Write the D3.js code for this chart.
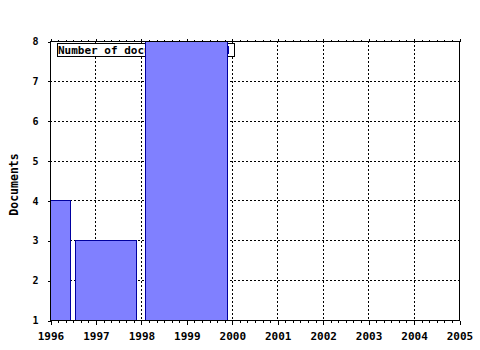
<!DOCTYPE html>
<html>
<head>
<meta charset="utf-8">
<script src="https://cdn.jsdelivr.net/npm/d3@7"></script>
<style>
  body { margin: 0; background: #fff; }
  svg { display: block; }
</style>
</head>
<body>
<div id="chart"></div>
<script>
// bins (in years) and document counts
const binStart = [1996, 1996.55, 1998.1];
const binEnd = [1996.45, 1997.9, 1999.9];
const counts = [4, 3, 8];
const yearTicks = [1996, 1997, 1998, 1999, 2000, 2001, 2002, 2003, 2004, 2005];
const countTicks = [1, 2, 3, 4, 5, 6, 7, 8];
const legendLabel = "Number of documents";

const width = 480, height = 350;
const plotLeft = 50, plotRight = 459, plotTop = 41, plotBottom = 320;

const svg = d3.select("#chart").append("svg")
  .attr("width", width)
  .attr("height", height)
  .style("font-family", "'DejaVu Sans Mono', monospace")
  .style("font-weight", "bold");

const x = d3.scaleLinear().domain([1996, 2005]).range([plotLeft, plotRight]);
const y = d3.scaleLinear().domain([1, 8]).range([plotBottom, plotTop]);

// minor ticks every 2 months
const minorTicks = d3.range(0, 54).map(i => 1996 + i / 6).filter(v => Math.abs(v - Math.round(v)) > 1e-6);

// dotted grid
const grid = svg.append("g")
  .attr("stroke", "#000")
  .attr("stroke-width", 1)
  .attr("stroke-dasharray", "2,2")
  .attr("shape-rendering", "crispEdges");

grid.selectAll("line.v")
  .data(yearTicks.slice(1, -1))
  .join("line")
  .attr("class", "v")
  .attr("x1", d => Math.round(x(d)) + 0.5)
  .attr("x2", d => Math.round(x(d)) + 0.5)
  .attr("y1", plotTop)
  .attr("y2", plotBottom);

grid.selectAll("line.h")
  .data(countTicks.slice(1, -1))
  .join("line")
  .attr("class", "h")
  .attr("x1", plotLeft)
  .attr("x2", plotRight)
  .attr("y1", d => Math.round(y(d)) + 0.5)
  .attr("y2", d => Math.round(y(d)) + 0.5);

// legend (sits behind the bars)
const legend = svg.append("g").attr("shape-rendering", "crispEdges");
legend.append("rect")
  .attr("x", 57.5).attr("y", 43.5)
  .attr("width", 177).attr("height", 13)
  .attr("fill", "#fff").attr("stroke", "#000");
legend.append("text")
  .attr("x", 58).attr("y", 54)
  .attr("font-size", 11)
  .text(legendLabel);
legend.append("rect")
  .attr("x", 222.5).attr("y", 46.5)
  .attr("width", 6).attr("height", 7)
  .attr("fill", "#8080ff").attr("stroke", "#0000a0");

// bars
svg.append("g")
  .attr("shape-rendering", "crispEdges")
  .selectAll("rect")
  .data(counts)
  .join("rect")
  .attr("x", (d, i) => Math.round(x(binStart[i])) + 0.5)
  .attr("width", (d, i) => Math.round(x(binEnd[i])) - Math.round(x(binStart[i])))
  .attr("y", d => Math.round(y(d)) + 0.5)
  .attr("height", d => Math.round(y(1)) - Math.round(y(d)))
  .attr("fill", "#8080ff")
  .attr("stroke", "#0000a0");

// axes
const xAxis = svg.append("g")
  .attr("transform", `translate(0.5,${plotBottom + 0.5})`)
  .call(d3.axisBottom(x).tickValues(yearTicks).tickSize(4).tickFormat(d3.format("d")));
xAxis.selectAll("text").attr("font-size", 11).attr("dy", "0.72em").attr("y", 12);

svg.append("g")
  .attr("transform", `translate(0.5,${plotBottom + 0.5})`)
  .call(d3.axisBottom(x).tickValues(minorTicks).tickSize(2).tickFormat(""));

svg.append("g")
  .attr("transform", `translate(0.5,${plotTop + 0.5})`)
  .call(d3.axisTop(x).tickValues(yearTicks).tickSize(3).tickFormat(""));

svg.append("g")
  .attr("transform", `translate(0.5,${plotTop + 0.5})`)
  .call(d3.axisTop(x).tickValues(minorTicks).tickSize(2).tickFormat(""));

const yAxis = svg.append("g")
  .attr("transform", `translate(${plotLeft + 0.5},0.5)`)
  .call(d3.axisLeft(y).tickValues(countTicks).tickSize(3).tickFormat(d3.format("d")));
yAxis.selectAll("text").attr("font-size", 10).attr("x", -12);

svg.selectAll(".domain").remove();
svg.selectAll(".tick line").attr("shape-rendering", "crispEdges");
svg.selectAll(".tick text").attr("fill", "#000").style("font-family", "'DejaVu Sans Mono', monospace").style("font-weight", "bold");

// frame
svg.append("rect")
  .attr("x", plotLeft + 0.5).attr("y", plotTop + 0.5)
  .attr("width", plotRight - plotLeft).attr("height", plotBottom - plotTop)
  .attr("fill", "none").attr("stroke", "#000")
  .attr("shape-rendering", "crispEdges");

// y title
svg.append("text")
  .attr("transform", `translate(18,${(plotTop + plotBottom) / 2 + 4}) rotate(-90)`)
  .attr("text-anchor", "middle")
  .attr("font-size", 11.5)
  .text("Documents");
</script>
</body>
</html>
